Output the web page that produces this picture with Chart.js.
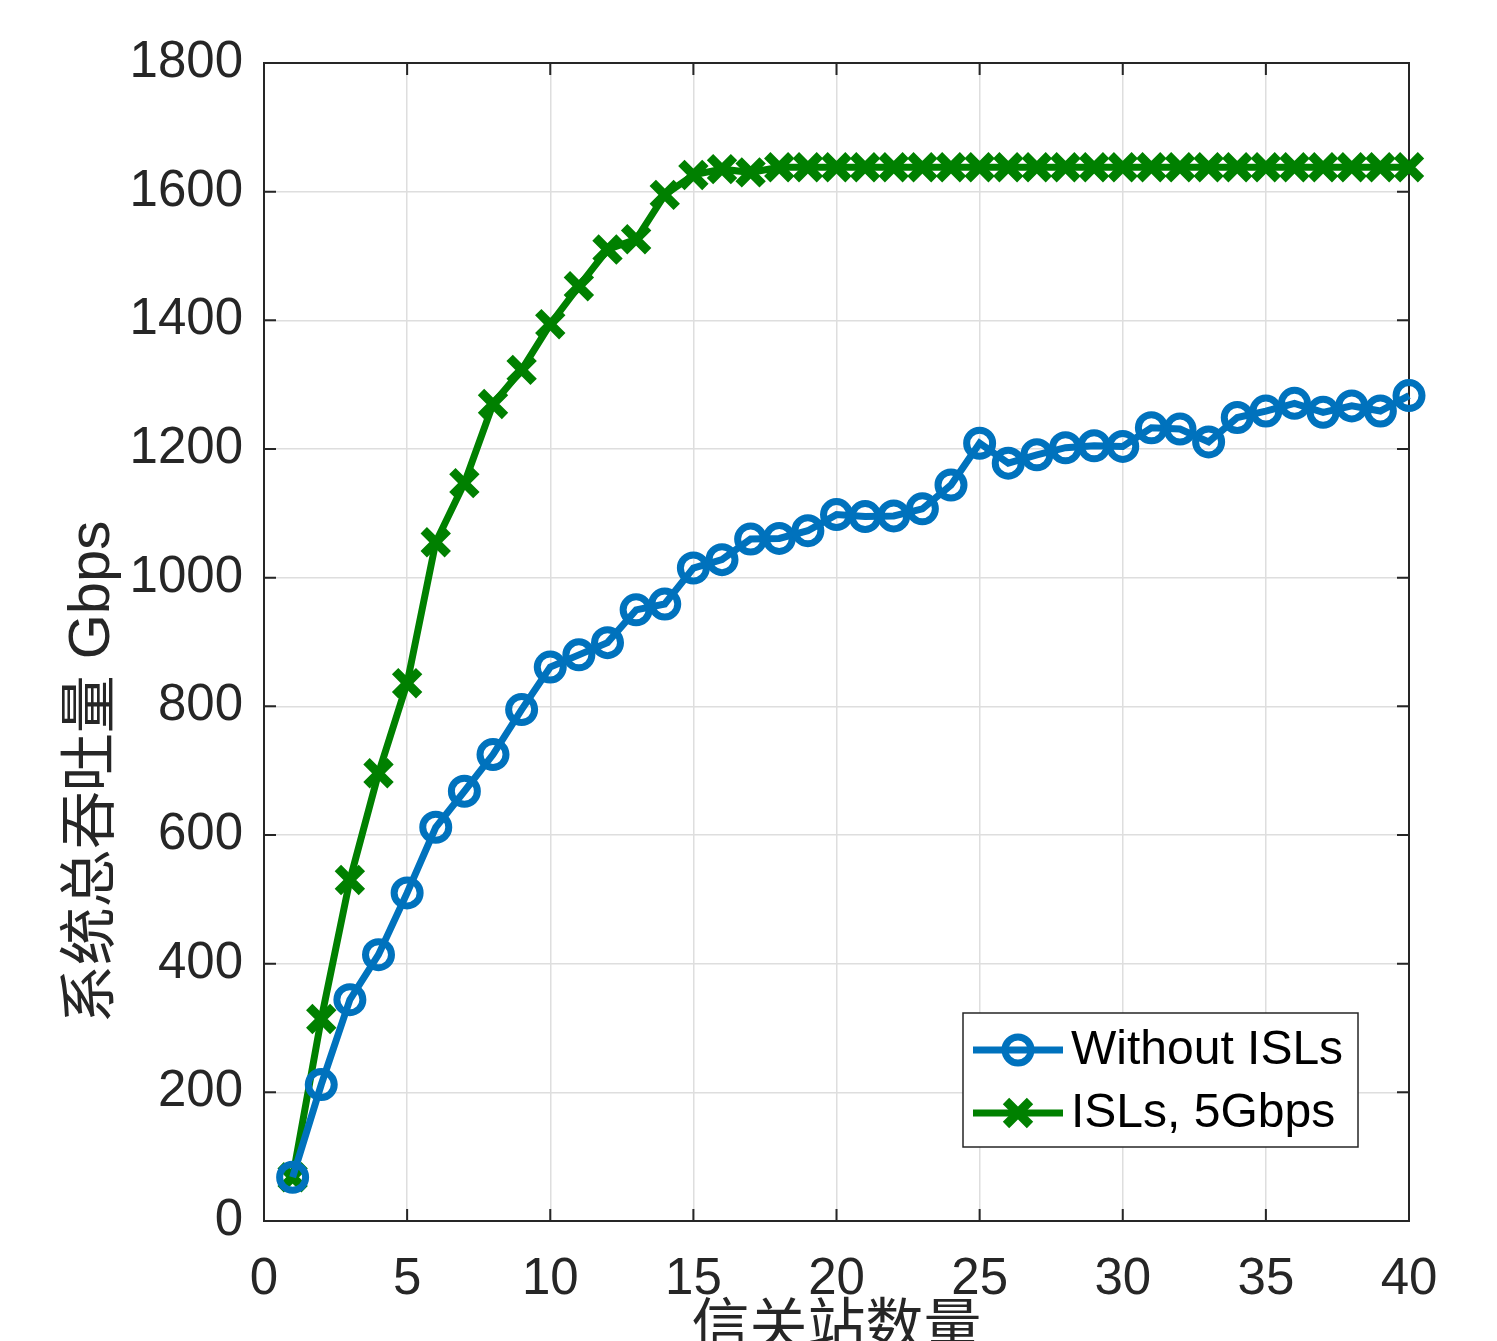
<!DOCTYPE html>
<html>
<head>
<meta charset="utf-8">
<script src="https://cdn.jsdelivr.net/npm/chart.js@4"></script>
<style>
  html, body { margin: 0; padding: 0; background: #fff; overflow: hidden; }
  #wrap { width: 1497px; height: 1400px; }
</style>
</head>
<body>
<div id="wrap"><canvas id="myChart" width="1497" height="1400"></canvas></div>
<script>
// gateway count (x axis)
const gateways = [1, 2, 3, 4, 5, 6, 7, 8, 9, 10, 11, 12, 13, 14, 15, 16, 17, 18, 19, 20,
                  21, 22, 23, 24, 25, 26, 27, 28, 29, 30, 31, 32, 33, 34, 35, 36, 37, 38, 39, 40];
// total system throughput, Gbps
const withoutISLs = [68, 212, 344, 414, 510, 612, 668, 725, 795, 861, 880, 899, 950, 959, 1015,
                     1028, 1060, 1061, 1073, 1098, 1095, 1096, 1107, 1144, 1209, 1178, 1191, 1202, 1205, 1204,
                     1233, 1231, 1211, 1249, 1259, 1271, 1257, 1267, 1259, 1283];
const withISLs = [68, 314, 530, 696, 836, 1055, 1147, 1270, 1323, 1394, 1453, 1510, 1526, 1595, 1626,
                  1635, 1630, 1638, 1638, 1638, 1638, 1638, 1638, 1638, 1638, 1638, 1638, 1638, 1638, 1638,
                  1638, 1638, 1638, 1638, 1638, 1638, 1638, 1638, 1638, 1638];
const seriesNames = ['Without ISLs', 'ISLs, 5Gbps'];
const xTicks = [0, 5, 10, 15, 20, 25, 30, 35, 40];
const yTicks = [0, 200, 400, 600, 800, 1000, 1200, 1400, 1600, 1800];
const xTitle = '信关站数量';
const yTitle = '系统总吞吐量 Gbps';

const BLUE = '#0072BD';
const GREEN = '#008000';
const AXIS = '#262626';
const GRID = '#dedede';
const FONT = '"Liberation Sans", Arial, "Noto Sans CJK SC", sans-serif';

const toPoints = vals => gateways.map((g, i) => ({ x: g, y: vals[i] }));

// box, inward ticks, axis titles, legend (MATLAB look)
const matlabAxes = {
  id: 'matlabAxes',
  beforeDatasetsDraw(chart) {
    const { ctx, chartArea: a, scales } = chart;
    ctx.save();
    ctx.strokeStyle = AXIS;
    ctx.lineWidth = 2;
    ctx.strokeRect(a.left, a.top, a.right - a.left, a.bottom - a.top);
    const tl = 12;
    ctx.beginPath();
    xTicks.forEach(t => {
      const px = scales.x.getPixelForValue(t);
      ctx.moveTo(px, a.bottom); ctx.lineTo(px, a.bottom - tl);
      ctx.moveTo(px, a.top); ctx.lineTo(px, a.top + tl);
    });
    yTicks.forEach(t => {
      const py = scales.y.getPixelForValue(t);
      ctx.moveTo(a.left, py); ctx.lineTo(a.left + tl, py);
      ctx.moveTo(a.right, py); ctx.lineTo(a.right - tl, py);
    });
    ctx.stroke();
    ctx.restore();
  },
  afterDraw(chart) {
    const { ctx, chartArea: a } = chart;
    ctx.save();
    ctx.fillStyle = AXIS;
    ctx.font = '58px ' + FONT;
    ctx.textAlign = 'center';
    ctx.textBaseline = 'middle';
    ctx.fillText(xTitle, (a.left + a.right) / 2, 1330);
    ctx.translate(93, 772);
    ctx.rotate(-Math.PI / 2);
    ctx.fillText(yTitle, 0, 0);
    ctx.restore();

    // legend
    const lx = 963, ly = 1013, lw = 395, lh = 134;
    ctx.save();
    ctx.fillStyle = '#fff';
    ctx.fillRect(lx, ly, lw, lh);
    ctx.strokeStyle = AXIS;
    ctx.lineWidth = 1.5;
    ctx.strokeRect(lx, ly, lw, lh);
    const rows = [1050, 1113];
    chart.data.datasets.forEach((ds, i) => {
      const y = rows[i];
      ctx.strokeStyle = ds.borderColor;
      ctx.lineWidth = ds.borderWidth;
      ctx.beginPath();
      ctx.moveTo(973, y); ctx.lineTo(1063, y);
      ctx.stroke();
      ctx.lineWidth = ds.pointBorderWidth;
      ctx.beginPath();
      if (ds.pointStyle === 'circle') {
        ctx.arc(1018, y, ds.pointRadius, 0, Math.PI * 2);
      } else {
        const d = ds.pointRadius * Math.SQRT1_2;
        ctx.moveTo(1018 - d, y - d); ctx.lineTo(1018 + d, y + d);
        ctx.moveTo(1018 - d, y + d); ctx.lineTo(1018 + d, y - d);
      }
      ctx.stroke();
      ctx.fillStyle = '#000';
      ctx.font = '48px ' + FONT;
      ctx.textAlign = 'left';
      ctx.textBaseline = 'middle';
      ctx.fillText(ds.label, 1071, y + 1);
    });
    ctx.restore();
  }
};

new Chart(document.getElementById('myChart').getContext('2d'), {
  type: 'line',
  data: {
    datasets: [
      {
        label: seriesNames[0],
        data: toPoints(withoutISLs),
        borderColor: BLUE,
        borderWidth: 7,
        pointStyle: 'circle',
        pointRadius: 13,
        pointBorderWidth: 7,
        pointBackgroundColor: 'rgba(0,0,0,0)',
        pointBorderColor: BLUE,
        tension: 0,
        clip: false
      },
      {
        label: seriesNames[1],
        data: toPoints(withISLs),
        borderColor: GREEN,
        borderWidth: 7,
        pointStyle: 'crossRot',
        pointRadius: 17,
        pointBorderWidth: 9,
        pointBorderColor: GREEN,
        tension: 0,
        clip: false
      }
    ]
  },
  options: {
    responsive: false,
    animation: false,
    events: [],
    layout: { padding: { left: 40, right: 88, top: 63, bottom: 0 } },
    plugins: { legend: { display: false }, tooltip: { enabled: false } },
    scales: {
      x: {
        type: 'linear',
        min: 0, max: 40,
        afterFit: s => { s.height = 1400 - 1221; },
        afterBuildTicks: s => { s.ticks = xTicks.map(v => ({ value: v })); },
        border: { display: false },
        grid: { color: GRID, lineWidth: 1.5, drawTicks: false },
        ticks: { color: AXIS, font: { family: FONT, size: 51 }, padding: 28, maxRotation: 0,
                 callback: v => String(v) }
      },
      y: {
        type: 'linear',
        min: 0, max: 1800,
        afterFit: s => { s.width = 224; },
        afterBuildTicks: s => { s.ticks = yTicks.map(v => ({ value: v })); },
        border: { display: false },
        grid: { color: GRID, lineWidth: 1.5, drawTicks: false },
        ticks: { color: AXIS, font: { family: FONT, size: 51 }, padding: 21,
                 callback: v => String(v) }
      }
    }
  },
  plugins: [matlabAxes]
});
</script>
</body>
</html>
